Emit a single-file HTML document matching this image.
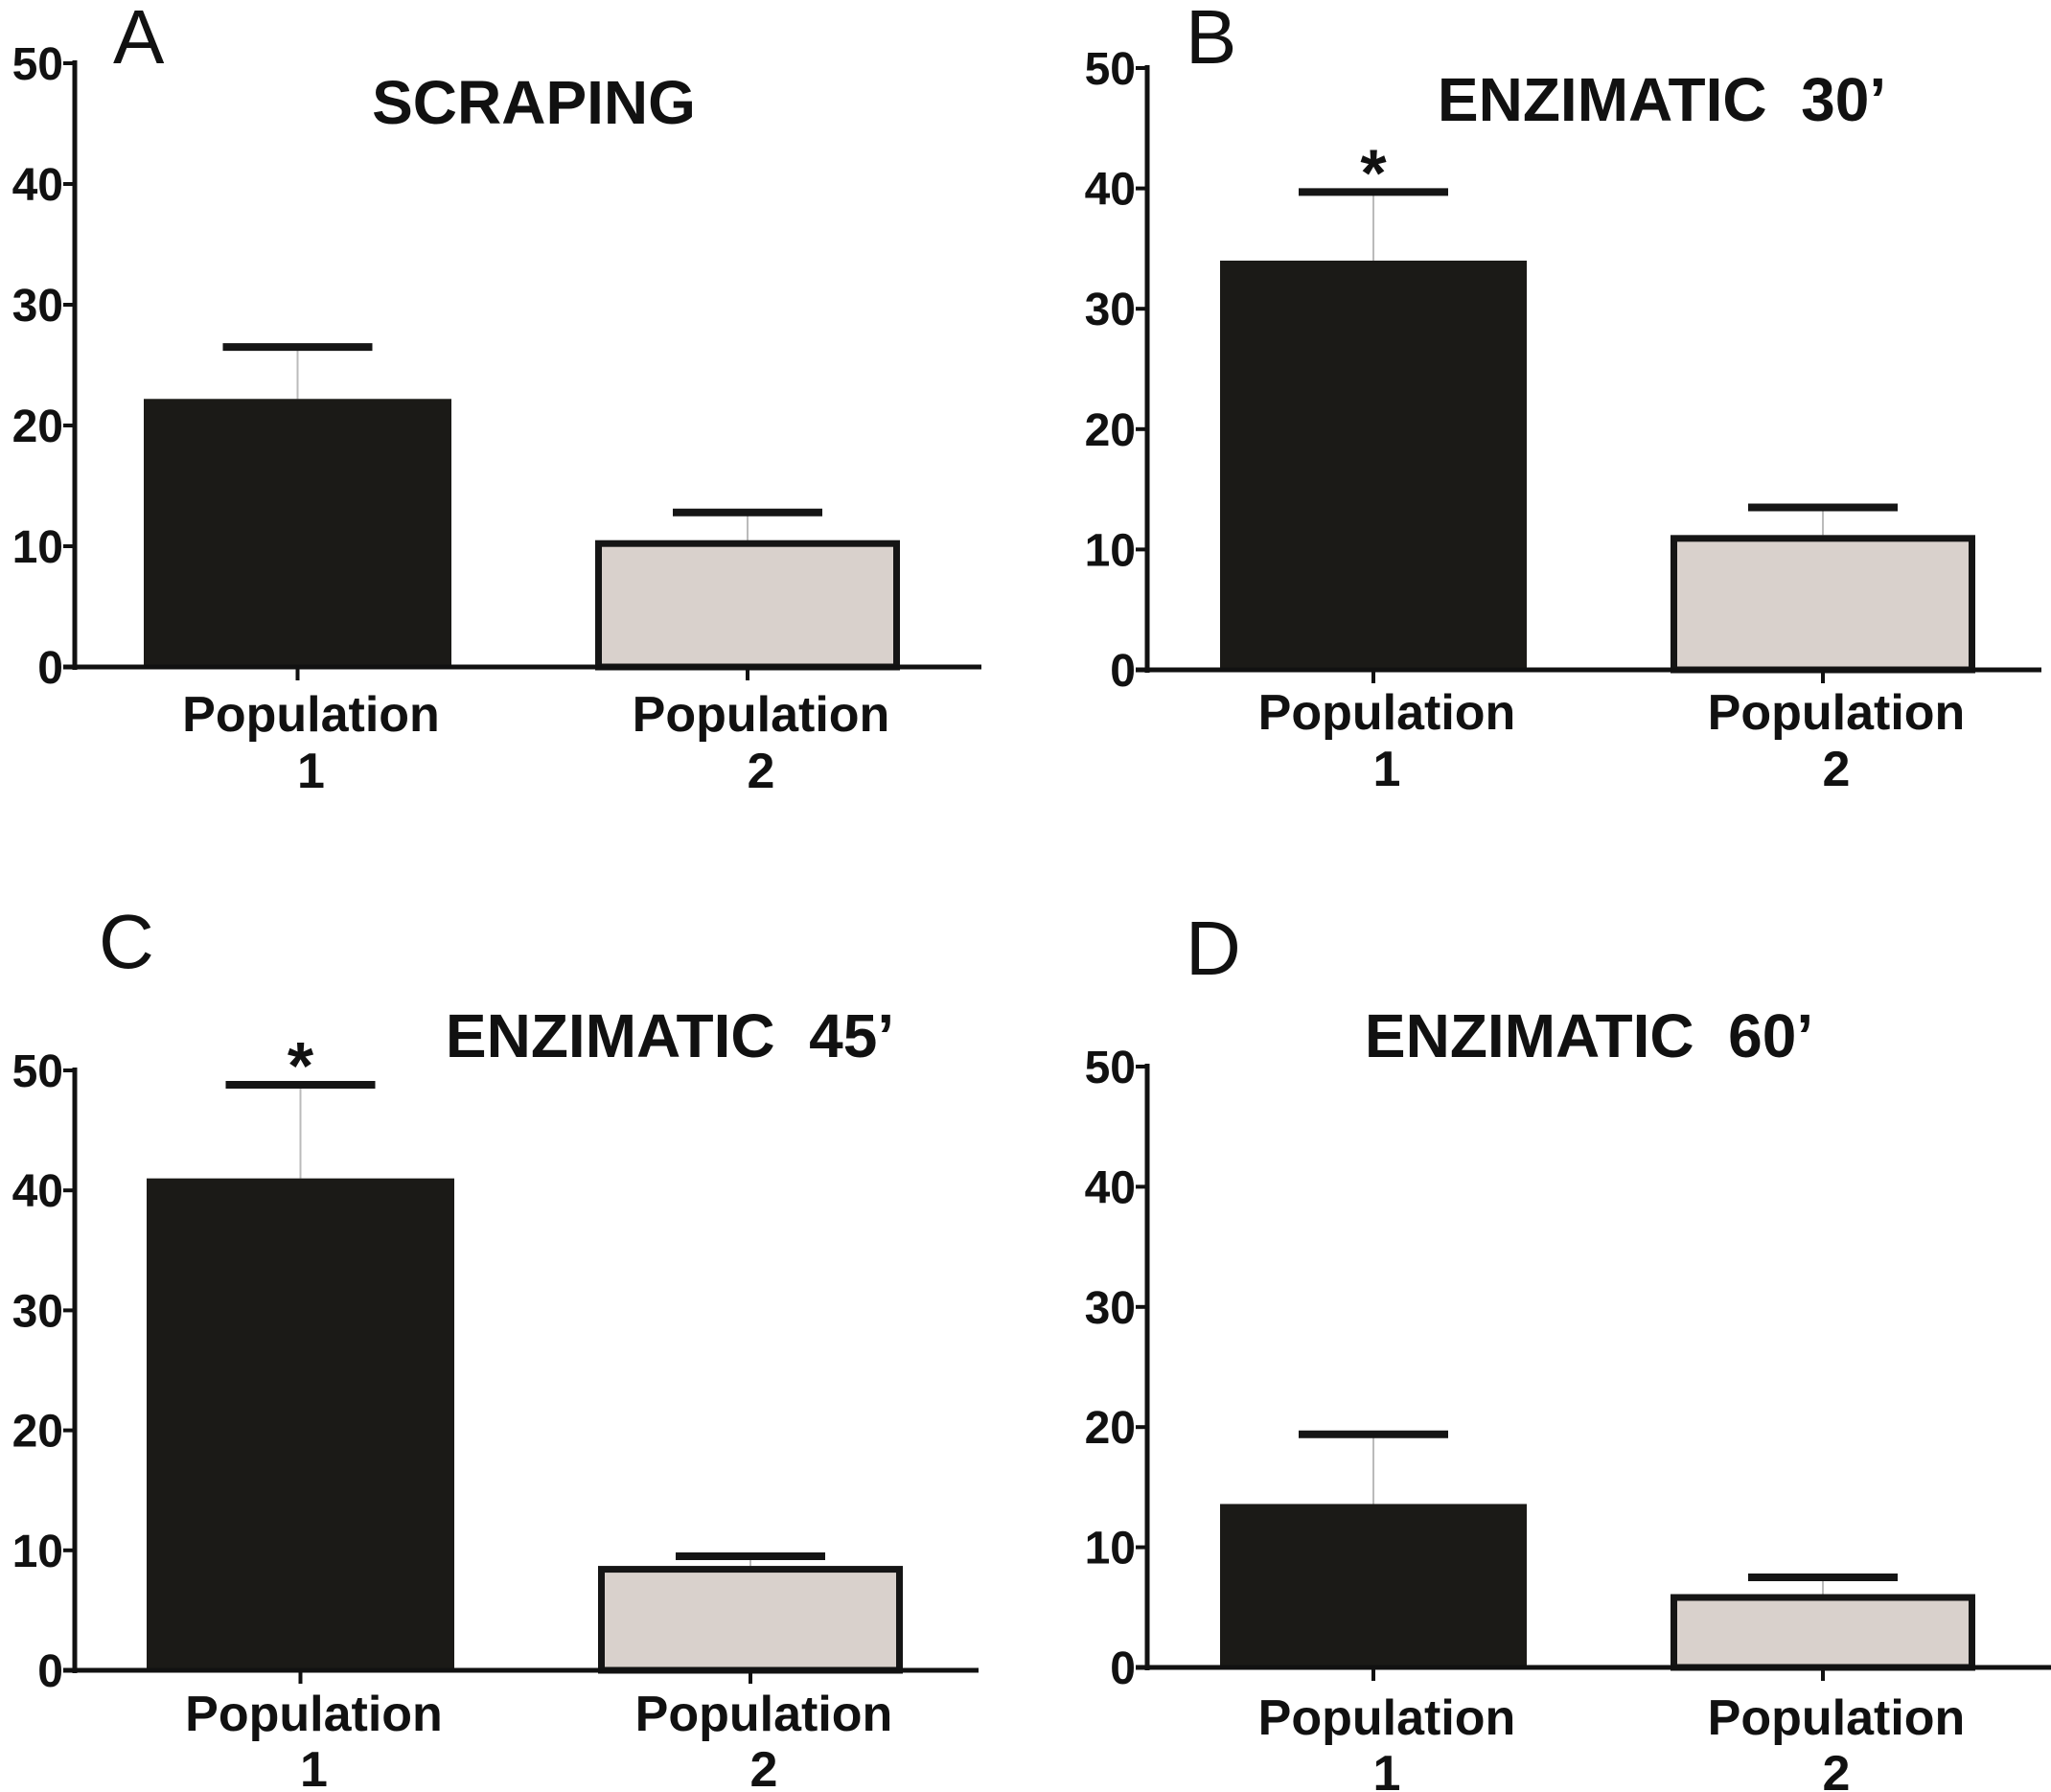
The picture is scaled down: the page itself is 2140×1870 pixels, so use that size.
<!DOCTYPE html>
<html><head><meta charset="utf-8"><style>
html,body{margin:0;padding:0;background:#fff;}
svg{display:block;font-family:"Liberation Sans",Arial,sans-serif;}
text{white-space:pre;}
</style></head><body>
<svg id="chart" width="2140" height="1870" viewBox="0 0 2140 1870" xmlns="http://www.w3.org/2000/svg"></svg>
<script>
const panelLetters = ["A","B","C","D"];
const panelTitles = ["SCRAPING","ENZIMATIC  30\u2019","ENZIMATIC  45\u2019","ENZIMATIC  60\u2019"];
const categories = ["Population 1","Population 2"];
const pop1Values = [22.2, 34.0, 41.0, 13.6];
const pop2Values = [10.5, 11.2, 8.7, 6.1];
const pop1Errors = [26.5, 39.7, 48.8, 19.4];
const pop2Errors = [12.8, 13.5, 9.5, 7.5];
const significant = [false, true, true, false];
const yTicks = [0,10,20,30,40,50];

const layouts = [
 {ax:78, y50:66, y0:696, xe:1024, b1:[150,471], b2:[621,939], tx:557, ty:129, lx:118, ly:66, xl:[763,822]},
 {ax:1197, y50:71, y0:699, xe:2130, b1:[1273,1593], b2:[1743,2061], tx:1734, ty:126, lx:1237, ly:66, xl:[761,820]},
 {ax:78, y50:1117, y0:1743, xe:1021, b1:[153,474], b2:[624,942], tx:699, ty:1103, lx:103, ly:1010, xl:[1806,1864]},
 {ax:1197, y50:1113, y0:1740, xe:2140, b1:[1273,1593], b2:[1743,2061], tx:1658, ty:1103, lx:1237, ly:1017, xl:[1810,1868]}
];
const NS = "http://www.w3.org/2000/svg";
const svg = document.getElementById("chart");
function mk(tag, attrs, parent){ const e=document.createElementNS(NS,tag); for(const k in attrs) e.setAttribute(k,attrs[k]); (parent||svg).appendChild(e); return e; }

layouts.forEach((L,i)=>{
  const g = mk("g",{});
  
  
  const y = v => L.y0 - (L.y0-L.y50)*v/50;
  const lt = mk("text",{x:L.lx,y:L.ly,"font-size":80,fill:"#111"},g); lt.textContent=panelLetters[i];
  
  
  const tt = mk("text",{x:L.tx,y:L.ty,"font-size":64,"font-weight":"bold","text-anchor":"middle",fill:"#111"},g); tt.textContent=panelTitles[i];
  
  
  const vals=[pop1Values[i],pop2Values[i]], errs=[pop1Errors[i],pop2Errors[i]], bs=[L.b1,L.b2];
  bs.forEach((b,j)=>{
    const cx=(b[0]+b[1])/2;
    const el = mk("line",{x1:cx,x2:cx,y1:y(vals[j]),y2:y(errs[j]),stroke:"#bbb","stroke-width":2},g);
    
    
    const cap = mk("line",{x1:cx-78,x2:cx+78,y1:y(errs[j]),y2:y(errs[j]),stroke:"#151515","stroke-width":8},g);
    
    
    let r;
    if(j===0) r = mk("rect",{x:b[0],y:y(vals[j]),width:b[1]-b[0],height:L.y0-y(vals[j]),fill:"#1b1a17"},g);
    else r = mk("rect",{x:b[0]+3.5,y:y(vals[j])+3.5,width:b[1]-b[0]-7,height:L.y0-y(vals[j])-3.5,fill:"#d9d1cc",stroke:"#151515","stroke-width":7},g);
    
    
    const xt = mk("line",{x1:cx,x2:cx,y1:L.y0,y2:L.y0+14,stroke:"#111","stroke-width":4},g);
    
    
    const parts = categories[j].split(" ");
    const t1 = mk("text",{x:cx+14,y:L.xl[0],"font-size":52,"font-weight":"bold","text-anchor":"middle",fill:"#111"},g); t1.textContent=parts[0];
    
    
    const t2 = mk("text",{x:cx+14,y:L.xl[1],"font-size":52,"font-weight":"bold","text-anchor":"middle",fill:"#111"},g); t2.textContent=parts[1];
    
    
    if(j===0 && significant[i]){
      const s = mk("text",{x:cx,y:y(errs[j])+4,"font-size":70,"font-weight":"bold","text-anchor":"middle",fill:"#111"},g); s.textContent="*";
      
      
    }
  });
  const ya = mk("line",{x1:L.ax,x2:L.ax,y1:L.y50-3,y2:L.y0+3,stroke:"#111","stroke-width":5},g);
  
  
  const xa = mk("line",{x1:L.ax-12,x2:L.xe,y1:L.y0,y2:L.y0,stroke:"#111","stroke-width":5},g);
  
  
  yTicks.forEach(v=>{
    const tk = mk("line",{x1:L.ax-12,x2:L.ax,y1:y(v),y2:y(v),stroke:"#111","stroke-width":4},g);
    
    
    const tl = mk("text",{x:L.ax-12,y:y(v)+17,"font-size":48,"font-weight":"bold","text-anchor":"end",fill:"#111"},g); tl.textContent=v;
    
    
  });
});
</script>
</body></html>
